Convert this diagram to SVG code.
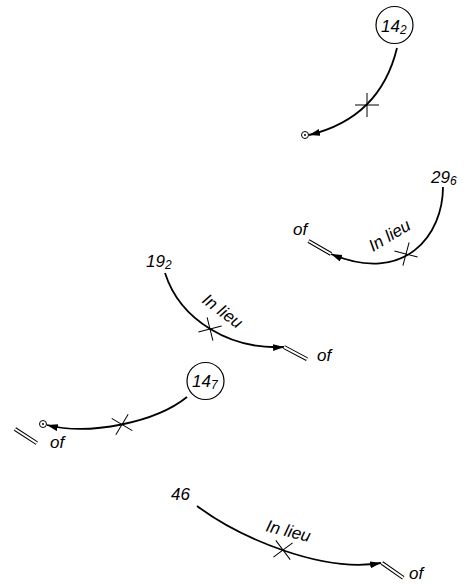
<svg xmlns="http://www.w3.org/2000/svg" width="472" height="585" viewBox="0 0 472 585">
<style>
.t{font-family:"Liberation Sans",Arial,sans-serif;font-style:italic;font-size:17px;fill:#000}
.s{font-size:12px}
.c{fill:none;stroke:#000;stroke-width:1.8;marker-end:url(#ah)}
.x{stroke:#000;stroke-width:1;fill:none}
.dl{stroke:#000;stroke-width:4;fill:none}
.dw{stroke:#fff;stroke-width:2;fill:none}
.ring{fill:#fff;stroke:#000;stroke-width:1.2}
.dot{fill:none;stroke:#000;stroke-width:1}
</style>
<defs>
<marker id="ah" markerUnits="userSpaceOnUse" markerWidth="12" markerHeight="8" refX="11" refY="3.5" orient="auto">
<path d="M0,0 L11,3.5 L0,7 z" fill="#000"/>
</marker>
<g id="cross"><path d="M-12,0 H12 M0,-12 V12" class="x"/></g>
<g id="dbl"><path d="M0,0 L26,0" class="dl"/><path d="M0,0 L26,0" class="dw"/></g>
<g id="cd"><circle r="3.5" class="dot"/><circle r="1" fill="#000"/></g>
</defs>
<g id="connectors">
<path class="c" d="M397,48 Q380,118 309,135"/>
<path class="c" d="M443,187 C443,235 405,285 331,254"/>
<path class="c" d="M165,273 C180,320 230,350 284,347"/>
<path class="c" d="M187,397 C156,422 90,436 47,425"/>
<path class="c" d="M197,506 C240,538 322,573 381,563"/>
</g>
<g id="n1">
<circle cx="394.5" cy="25" r="18.5" class="ring"/>
<text x="381" y="31.5" class="t">14<tspan class="s" dy="2">2</tspan></text>
<use href="#cross" transform="translate(367,105)"/>
<use href="#cd" transform="translate(305,135)"/>
</g>
<g id="n2">
<text x="431" y="183" class="t">29<tspan class="s" dy="2">6</tspan></text>
<text class="t" transform="translate(373,252) rotate(-31)">In lieu</text>
<use href="#cross" transform="translate(406,254) rotate(15)"/>
<use href="#dbl" transform="translate(331,254) rotate(210)"/>
<text x="293" y="235" class="t">of</text>
</g>
<g id="n3">
<text x="146" y="267" class="t">19<tspan class="s" dy="2">2</tspan></text>
<text class="t" transform="translate(201,302) rotate(37)">In lieu</text>
<use href="#cross" transform="translate(210,329) rotate(-14)"/>
<use href="#dbl" transform="translate(284,347) rotate(28)"/>
<text x="317" y="361" class="t">of</text>
</g>
<g id="n4">
<circle cx="205.5" cy="381" r="18.5" class="ring"/>
<text x="192" y="387" class="t">14<tspan class="s" dy="2">7</tspan></text>
<use href="#cross" transform="translate(122,424.5) rotate(31)"/>
<use href="#cd" transform="translate(43,424)"/>
<use href="#dbl" transform="translate(15,429) rotate(33)"/>
<text x="50" y="448" class="t">of</text>
</g>
<g id="n5">
<text x="171" y="500" class="t">46</text>
<text class="t" transform="translate(265,531) rotate(14)">In lieu</text>
<use href="#cross" transform="translate(283,550) rotate(-37)"/>
<use href="#dbl" transform="translate(382,563) rotate(35)"/>
<text x="409" y="579" class="t">of</text>
</g>
</svg>
